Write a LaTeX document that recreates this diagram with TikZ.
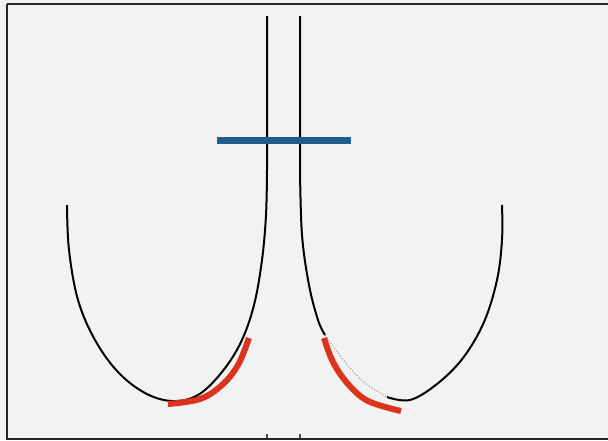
\documentclass[tikz,border=0pt]{standalone}
\usetikzlibrary{calc}
\definecolor{bg}{RGB}{242,242,242}
\definecolor{bluebar}{RGB}{32,92,140}
\definecolor{redarc}{RGB}{218,52,30}
\begin{document}
\begin{tikzpicture}[x=1pt,y=-1pt,
  curve/.style={line width=2pt,black},
  redstroke/.style={line width=6pt,redarc},
  bluestroke/.style={line width=7pt,bluebar}]
\useasboundingbox (0,0) rectangle (608,440);
\fill[bg] (0,0) rectangle (608,440);
\draw[line width=2pt,black!85] (7,3.5) -- (610,3.5);
\draw[line width=2pt,black!85] (7,3.5) -- (7,438.5) -- (610,438.5);
% left U curve
\draw[curve] plot[smooth,tension=0.6] coordinates {(67,205) (69,250) (78,300) (95,340) (118,372) (145,393) (172,401) (198,395) (222,372) (241,342) (254,305) (262,260) (266,215) (267,170)} -- (267,16);
% right U curve
\draw[curve] (300,16) -- (300,170) plot[smooth,tension=0.6] coordinates {(300,170) (302,235) (309,285) (318,320) (325,335)};
\draw[black!35,line width=1.2pt,dotted] plot[smooth,tension=0.6] coordinates {(325,335) (345,362) (365,383) (387,397)};
\draw[curve] plot[smooth,tension=0.6] coordinates {(387,397) (410,400) (437,384) (463,358) (484,322) (497,280) (502,240) (502,205)};
% blue bar
\draw[bluestroke] (217,140) -- (351,140);
% red arcs
\draw[redstroke] plot[smooth,tension=0.6] coordinates {(249,338) (238,365) (222,385) (200,399) (168,404)};
\draw[redstroke] plot[smooth,tension=0.6] coordinates {(324,338) (333,362) (348,384) (368,401) (401,411)};
% bottom ticks
\draw[line width=1.5pt,black!70] (267,434) -- (267,438);
\draw[line width=1.5pt,black!70] (300,434) -- (300,438);
\end{tikzpicture}
\end{document}
